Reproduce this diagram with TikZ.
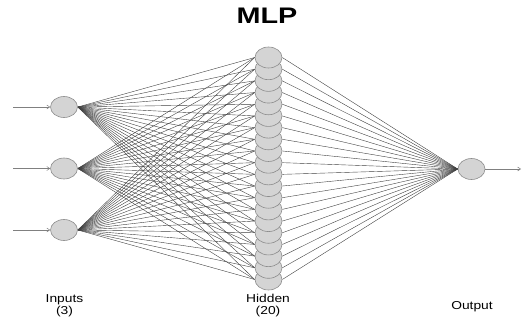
\documentclass[tikz,border=0pt]{standalone}
\usepackage{graphicx}
\usepackage{fontspec}
\setmainfont{Liberation Sans}
\usetikzlibrary{shapes.geometric,arrows.meta,backgrounds}
\begin{document}
\begin{tikzpicture}[x=1pt,y=-1pt,
 neuron/.style={ellipse,draw=black!45,fill=black!17,line width=0.6pt,minimum width=27pt,minimum height=21pt,inner sep=0pt},
 wire/.style={draw=black!75,line width=0.4pt},
 feed/.style={draw=black!50,line width=0.5pt,-{Straight Barb[length=3pt,width=4pt]}},
 lbl/.style={font=\fontsize{11.5}{11.5}\selectfont,anchor=base,inner sep=0pt},
 ttl/.style={font=\fontsize{22.5}{22.5}\selectfont\bfseries,anchor=base,inner sep=0pt}]
\useasboundingbox (0,0) rectangle (522,327);
% nodes
\foreach \i/\y in {1/107,2/168.5,3/230}{
  \node[neuron] (i\i) at (64,\y) {};
  \coordinate (s\i) at (13,\y);
}
\foreach \j in {20,19,...,1}{
  \node[neuron] (h\j) at (268.5,{57.5+(\j-1)*11.684}) {};
}
\node[neuron] (o) at (471.5,169) {};
\coordinate (e) at (521,169);
% connectors
\begin{scope}[on background layer]
\foreach \i in {1,2,3}{
  \foreach \j in {1,...,20}{
    \draw[wire] (i\i.east) -- (h\j.west);
  }
}
\foreach \j in {1,...,20}{
  \draw[wire] (h\j.east) -- (o.west);
}
\end{scope}
\foreach \i in {1,2,3}{
  \draw[feed] (s\i) -- (i\i.west);
}
\draw[feed] (o.east) -- (e);
% texts
\node[ttl] (title) at (267,23) {\scalebox{1.28}[1]{MLP}};
\node[lbl] (inl1) at (64.5,302.5) {\scalebox{1.2}[1]{Inputs}};
\node[lbl] (inl2) at (64.5,314) {\scalebox{1.2}[1]{(3)}};
\node[lbl] (hdl1) at (268,302.5) {\scalebox{1.2}[1]{Hidden}};
\node[lbl] (hdl2) at (268,314) {\scalebox{1.2}[1]{(20)}};
\node[lbl] (outl) at (472,309) {\scalebox{1.2}[1]{Output}};
\end{tikzpicture}
\end{document}
